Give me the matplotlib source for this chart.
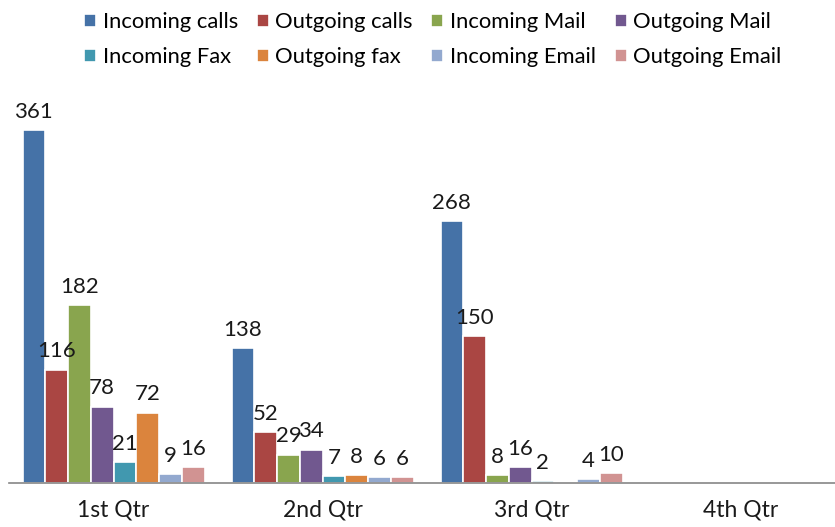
import numpy as np
import matplotlib.pyplot as plt

### DATOS
### ------------------

quarters = ["1st Qtr", "2nd Qtr", "3rd Qtr", "4th Qtr"]

incoming_calls = [361, 138, 268, np.nan]
outgoing_calls = [116, 52, 150, np.nan]
incoming_mail = [182, 29, 8, np.nan]
outgoing_mail = [78, 34, 16, np.nan]
incoming_fax = [21, 7, 2, np.nan]
outgoing_fax = [72, 8, np.nan, np.nan]
incoming_email = [9, 6, 4, np.nan]
outgoing_email = [16, 6, 10, np.nan]

series_names = ["Incoming calls", "Outgoing calls", "Incoming Mail", "Outgoing Mail",
                "Incoming Fax", "Outgoing fax", "Incoming Email", "Outgoing Email"]
series_values = [incoming_calls, outgoing_calls, incoming_mail, outgoing_mail,
                 incoming_fax, outgoing_fax, incoming_email, outgoing_email]
colors = ["#4572A7", "#AA4643", "#89A54E", "#71588F",
          "#4198AF", "#DB843D", "#93A9CF", "#D19392"]

### FIGURA
### ------------------

plt.rcParams['font.family'] = ['Lato', 'DejaVu Sans']
plt.rcParams['font.size'] = 16.5

fig = plt.figure(figsize=(8.35, 5.27), dpi=100)
ax = fig.add_axes([9 / 835, 44 / 527, 836 / 835, 391 / 527])

x = np.arange(len(quarters))
n = len(series_values)
w = 22.75 / 209

bars = []
for i, (name, vals, col) in enumerate(zip(series_names, series_values, colors)):
    pos = x + (i - (n - 1) / 2) * w
    b = ax.bar(pos, vals, width=w, color=col, edgecolor="white", linewidth=1.2, label=name)
    bars.append(b)
    # etiquetas de valores
    for px, v in zip(pos, vals):
        if np.isnan(v):
            continue
        ax.annotate(str(int(v)), (px, v), xytext=(0, 9), textcoords="offset points",
                    ha="center", va="baseline", color="#1a1a1a", fontsize=16)

ax.set_xlim(-0.5, len(quarters) - 0.5)
ax.set_ylim(0, 400)
ax.set_xticks(x)
ax.set_xticklabels(quarters, color="#1a1a1a")
ax.tick_params(axis="x", length=0, pad=12)
ax.set_yticks([])
for s in ["top", "left", "right"]:
    ax.spines[s].set_visible(False)
ax.spines["bottom"].set_color("#868686")
ax.spines["bottom"].set_linewidth(1.2)
ax.patch.set_alpha(0)

# leyenda ordenada por filas (matplotlib llena por columnas)
order = [0, 4, 1, 5, 2, 6, 3, 7]
fig.legend([bars[k] for k in order], [series_names[k] for k in order],
           loc="upper left", bbox_to_anchor=(84 / 835, 1 - 12 / 527), ncol=4,
           frameon=False, borderpad=0, borderaxespad=0, fontsize=15.8,
           handlelength=0.55, handleheight=0.55, handletextpad=0.3,
           columnspacing=0.85, labelspacing=0.7)

fig.savefig("out.png", dpi=100)
